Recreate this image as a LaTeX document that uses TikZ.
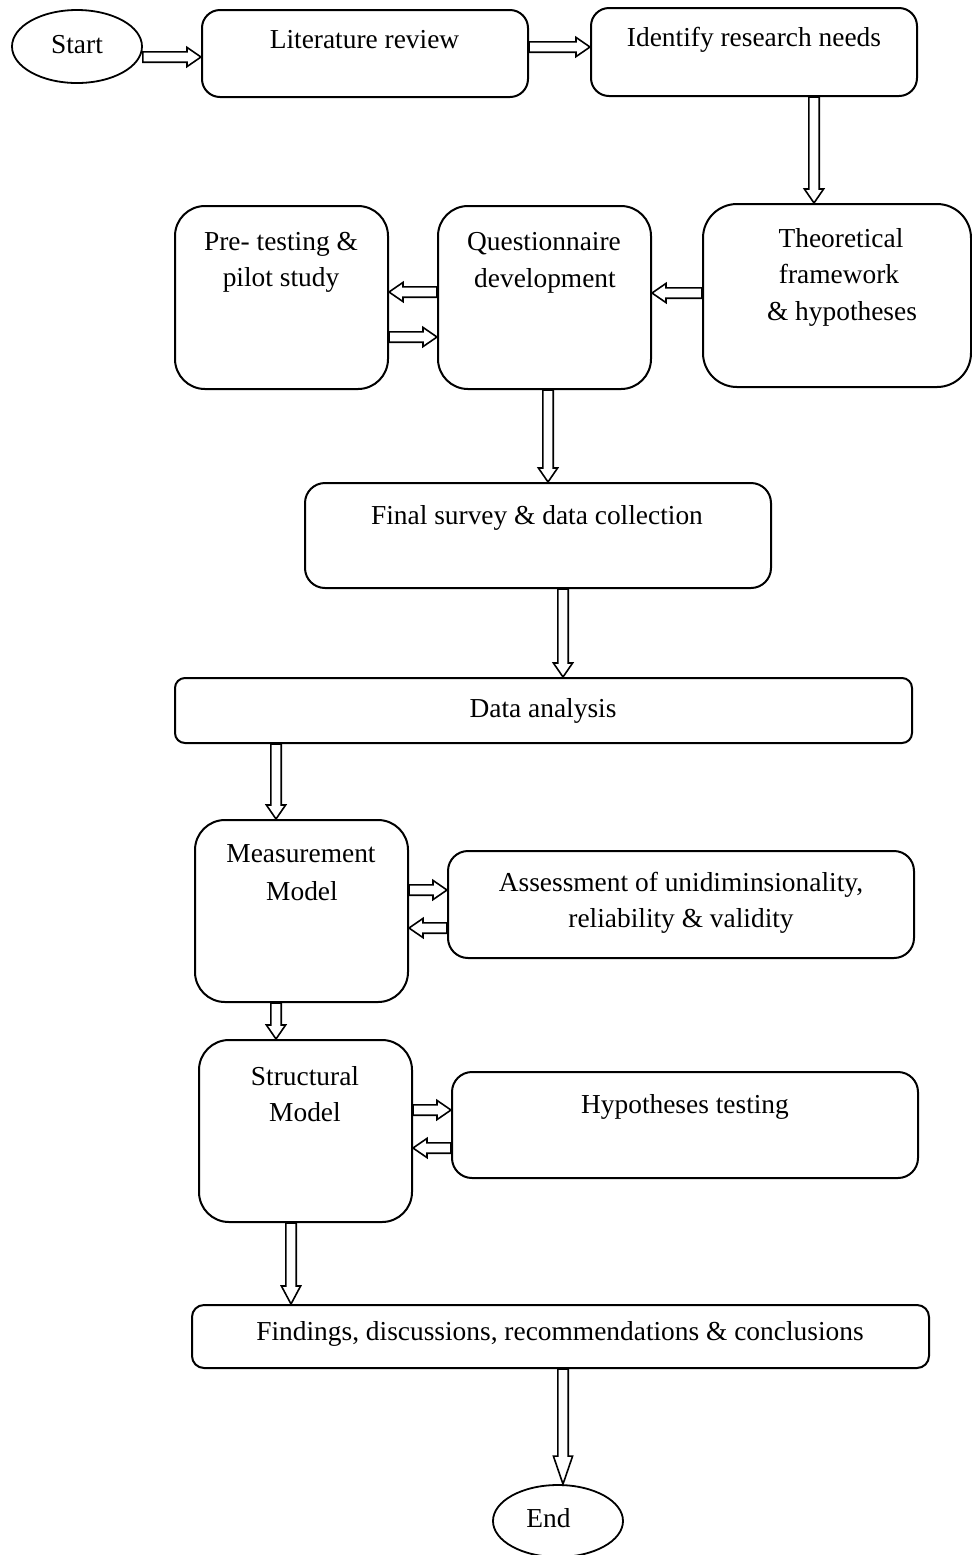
\documentclass[tikz,border=0pt]{standalone}
\usepackage{fontspec}
\setmainfont{Liberation Serif}
\usetikzlibrary{calc,fit,shapes.geometric}
\tikzset{
  box/.style={draw, line width=1pt, rounded corners=#1, inner sep=0pt},
  oval/.style={draw, ellipse, line width=0.9pt, inner sep=0pt},
  txt/.style={inner sep=0pt, anchor=base, font=\fontsize{13.7}{16}\selectfont},
  arr/.style={draw, fill=white, line width=0.8pt, line join=miter},
}
\newcommand\barrow[3][7pt]{%
  \draw[arr] let \p1=#2, \p2=#3, \n1={atan2(\y2-\y1,\x2-\x1)}, \n2={veclen(\x2-\x1,\y2-\y1)} in
  [shift={(\p1)}, rotate=\n1]
  (0pt,-2.6pt) -- ({\n2-#1},-2.6pt) -- ({\n2-#1},-4.8pt) -- ({\n2},0pt)
  -- ({\n2-#1},4.8pt) -- ({\n2-#1},2.6pt) -- (0pt,2.6pt) -- cycle;}
\begin{document}
\begin{tikzpicture}[x=0.5pt, y=-0.5pt]
\useasboundingbox (0,0) rectangle (972,1555);
% shapes
\node[oval, minimum width=65pt, minimum height=36.5pt] (start) at (77,46.5) {};
\node[box=9pt, fit={(202,10) (528,97)}] (lit) {};
\node[box=9pt, fit={(591,8) (917,96)}] (iden) {};
\node[box=17pt, fit={(703,204) (971,387)}] (theo) {};
\node[box=15pt, fit={(438,206) (651,389)}] (quest) {};
\node[box=15pt, fit={(175,206) (388,389)}] (pre) {};
\node[box=10pt, fit={(305,483) (771,588)}] (final) {};
\node[box=5pt, fit={(175,678) (912,743)}] (data) {};
\node[box=15pt, fit={(195,820) (408,1002)}] (meas) {};
\node[box=10pt, fit={(448,851) (914,958)}] (assess) {};
\node[box=15pt, fit={(199,1040) (412,1222)}] (struct) {};
\node[box=10pt, fit={(452,1072) (918,1178)}] (hyp) {};
\node[box=6pt, fit={(192,1305) (929,1368)}] (find) {};
\node[oval, minimum width=65pt, minimum height=36pt] (end) at (558,1521) {};
% texts
\node[txt] (t-start) at (77,53) {Start};
\node[txt] (t-lit) at (364.5,48) {Literature review};
\node[txt] (t-iden) at (754,46) {Identify research needs};
\node[txt] (t-pre1) at (281,250) {Pre- testing \&};
\node[txt] (t-pre2) at (281,286) {pilot study};
\node[txt] (t-q1) at (544,250) {Questionnaire};
\node[txt] (t-q2) at (545,287) {development};
\node[txt] (t-th1) at (841,247) {Theoretical};
\node[txt] (t-th2) at (839,283) {framework};
\node[txt] (t-th3) at (842,320) {\& hypotheses};
\node[txt] (t-final) at (537,524) {Final survey \& data collection};
\node[txt] (t-data) at (543,717) {Data analysis};
\node[txt] (t-m1) at (301,862) {Measurement};
\node[txt] (t-m2) at (302,900) {Model};
\node[txt] (t-a1) at (681,891) {Assessment of unidiminsionality,};
\node[txt] (t-a2) at (681,927) {reliability \& validity};
\node[txt] (t-s1) at (305,1085) {Structural};
\node[txt] (t-s2) at (305,1121) {Model};
\node[txt] (t-h) at (685,1113) {Hypotheses testing};
\node[txt] (t-f) at (560,1340) {Findings, discussions, recommendations \& conclusions};
\node[txt] (t-end) at (548.5,1527) {End};
% arrows
\barrow{(start.east |- 0,57)}{(lit.west |- 0,57)}
\barrow{(lit.east |- 0,47)}{(iden.west |- 0,47)}
\barrow{(iden.south -| 814,0)}{(theo.north -| 814,0)}
\barrow{(theo.west |- 0,293)}{(quest.east |- 0,293)}
\barrow{(quest.west |- 0,292)}{(pre.east |- 0,292)}
\barrow{(pre.east |- 0,337)}{(quest.west |- 0,337)}
\barrow{(quest.south -| 548,0)}{(final.north -| 548,0)}
\barrow{(final.south -| 563,0)}{(data.north -| 563,0)}
\barrow{(data.south -| 276,0)}{(meas.north -| 276,0)}
\barrow{(meas.east |- 0,890)}{(assess.west |- 0,890)}
\barrow{(assess.west |- 0,928)}{(meas.east |- 0,928)}
\barrow{(meas.south -| 276,0)}{(struct.north -| 276,0)}
\barrow{(struct.east |- 0,1110)}{(hyp.west |- 0,1110)}
\barrow{(hyp.west |- 0,1148)}{(struct.east |- 0,1148)}
\barrow[9pt]{(struct.south -| 291,0)}{(find.north -| 291,0)}
\barrow[14pt]{(find.south -| 563,0)}{(end.north -| 563,0)}
\end{tikzpicture}
\end{document}
